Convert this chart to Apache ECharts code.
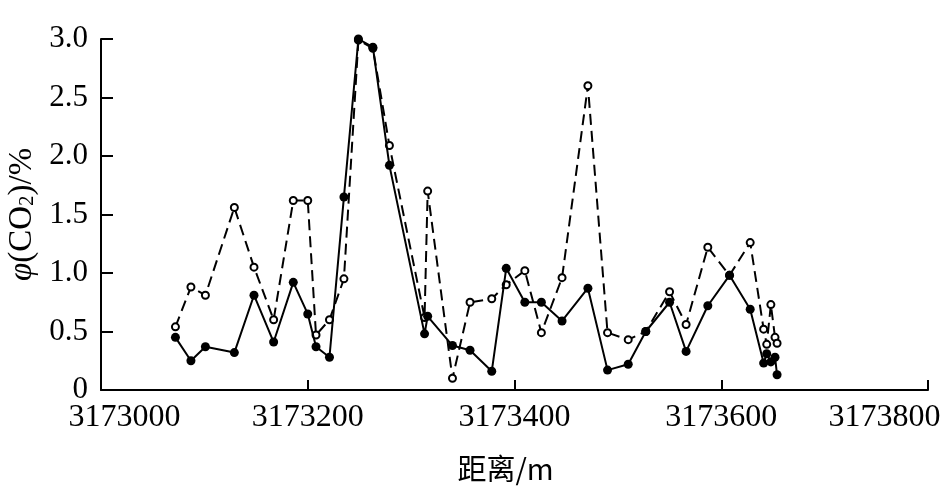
<!DOCTYPE html>
<html>
<head>
<meta charset="utf-8">
<script src="https://cdn.jsdelivr.net/npm/echarts@6/dist/echarts.min.js"></script>
<style>html,body{margin:0;padding:0;background:#fff}#c{width:945px;height:496px}</style>
</head>
<body>
<div id="c"></div>
<script>
var distances = [3173072,3173087,3173101,3173129,3173148,3173167,3173186,3173200,3173208,3173221,3173235,3173249,3173263,3173279,3173313,3173316,3173340,3173357,3173378,3173392,3173410,3173426,3173446,3173471,3173490,3173510,3173527,3173550,3173566,3173587,3173608,3173628,3173641,3173644,3173648,3173652,3173654];
var solidValues = [0.45,0.25,0.37,0.32,0.81,0.41,0.92,0.65,0.37,0.28,1.65,3.00,2.93,1.92,0.48,0.63,0.38,0.34,0.16,1.04,0.75,0.75,0.59,0.87,0.17,0.22,0.50,0.75,0.33,0.72,0.98,0.69,0.23,0.31,0.24,0.28,0.13];
var dashedValues = [0.54,0.88,0.81,1.56,1.05,0.60,1.62,1.62,0.47,0.60,0.95,2.99,2.92,2.09,0.62,1.70,0.10,0.75,0.78,0.90,1.02,0.49,0.96,2.60,0.49,0.43,0.50,0.84,0.56,1.22,0.98,1.26,0.52,0.39,0.73,0.45,0.40];
var xTicks = [3173000,3173200,3173400,3173600,3173800];
var yTicks = [0,0.5,1.0,1.5,2.0,2.5,3.0];

function pairs(xs, ys){ return xs.map(function(x,i){return [x, ys[i]];}); }
var serif = '"Liberation Serif","DejaVu Serif",serif';
var chart = echarts.init(document.getElementById('c'));
chart.setOption({
  animation:false,
  backgroundColor:'#fff',
  grid:{left:101,right:17,top:39,bottom:106,containLabel:false,outerBoundsMode:'none'},
  xAxis:{
    type:'value', min:xTicks[0], max:xTicks[xTicks.length-1], interval:200,
    name:'距离/m', nameLocation:'middle', nameGap:64,
    nameTextStyle:{fontFamily:'"Noto Sans CJK SC",'+serif, fontSize:29, color:'#000', padding:[0,18,0,0]},
    axisLine:{show:true,lineStyle:{color:'#000',width:2}},
    axisTick:{show:true,inside:true,length:10,lineStyle:{color:'#000',width:2}},
    axisLabel:{fontFamily:serif,fontSize:32,color:'#000',margin:12,
      formatter:function(v){
        if(v===xTicks[0]) return '{first|'+v+'}';
        if(v===xTicks[xTicks.length-1]) return '{last|'+v+'}';
        return String(v);
      },
      rich:{
        first:{fontFamily:serif,fontSize:32,color:'#000',padding:[0,0,0,47]},
        last:{fontFamily:serif,fontSize:32,color:'#000',padding:[0,87,0,0]}
      }},
    splitLine:{show:false}
  },
  yAxis:{
    type:'value', min:0, max:3, interval:0.5,
    name:'{i|φ}(CO{sub|2})/%', nameLocation:'middle', nameGap:56, nameRotate:90,
    nameTextStyle:{fontFamily:serif,fontSize:33,color:'#000',
      rich:{i:{fontFamily:serif,fontStyle:'italic',fontSize:33,color:'#000'},
            sub:{fontFamily:serif,fontSize:21,color:'#000',verticalAlign:'bottom',padding:[12,0,0,0]}}},
    axisLine:{show:true,lineStyle:{color:'#000',width:2}},
    axisTick:{show:true,inside:true,length:12,lineStyle:{color:'#000',width:2}},
    axisLabel:{fontFamily:serif,fontSize:31,color:'#000',margin:13,
      formatter:function(v){return v===0?'0':v.toFixed(1);}},
    splitLine:{show:false}
  },
  series:[
    {type:'line', data:pairs(distances,dashedValues), symbol:'circle', symbolSize:7,
     lineStyle:{color:'#000',width:2,type:[11,6]},
     itemStyle:{color:'#fff',borderColor:'#000',borderWidth:2}, z:2},
    {type:'line', data:pairs(distances,solidValues), symbol:'circle', symbolSize:9,
     lineStyle:{color:'#000',width:2},
     itemStyle:{color:'#000',borderColor:'#000',borderWidth:0}, z:3}
  ]
});
</script>
</body>
</html>
